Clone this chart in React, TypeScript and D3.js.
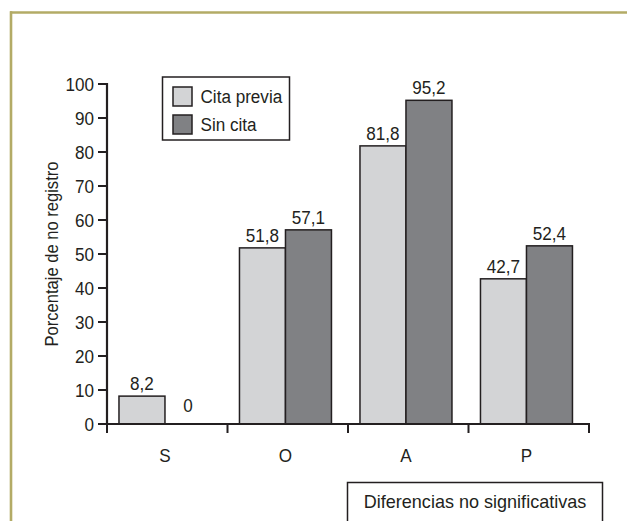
import React from "react";
import * as d3 from "d3";

const categories = ["S", "O", "A", "P"];
const seriesNames = ["Cita previa", "Sin cita"];
const citaPrevia = [8.2, 51.8, 81.8, 42.7];
const sinCita = [0, 57.1, 95.2, 52.4];
const valueLabels = [
  ["8,2", "51,8", "81,8", "42,7"],
  ["0", "57,1", "95,2", "52,4"],
];
const yTicks = [0, 10, 20, 30, 40, 50, 60, 70, 80, 90, 100];
const yLabel = "Porcentaje de no registro";
const noteText = "Diferencias no significativas";

const W = 627;
const H = 521;
const FONT = "'Liberation Sans', Arial, sans-serif";
const colors = ["#d3d4d6", "#808184"];
const ink = "#231f20";
const frame = "#b3ab66";
const SX = 0.9;

function T({
  x,
  y,
  anchor = "start",
  size = 19,
  sx = SX,
  rotate = 0,
  dy,
  children,
}: {
  x: number;
  y: number;
  anchor?: string;
  size?: number;
  sx?: number;
  rotate?: number;
  dy?: string;
  children: React.ReactNode;
}) {
  return (
    <text
      transform={`translate(${x},${y}) rotate(${rotate}) scale(${sx},1)`}
      fontFamily={FONT}
      fontSize={size}
      fill={ink}
      textAnchor={anchor}
      dy={dy}
    >
      {children}
    </text>
  );
}

export default function App() {
  const series = [citaPrevia, sinCita];
  const x = d3.scaleBand<string>().domain(categories).range([107, 589]).padding(0);
  const x1 = d3
    .scaleBand<number>()
    .domain([0, 1])
    .range([0, x.bandwidth()])
    .paddingInner(0)
    .paddingOuter(0.31)
    .align(0.42);
  const y = d3.scaleLinear().domain([0, 100]).range([424, 84]);

  return (
    <svg
      width={W}
      height={H}
      style={{ position: "absolute", left: 0, top: 0, background: "#fff" }}
    >
      {/* frame */}
      <line x1={10} x2={W} y1={12.5} y2={12.5} stroke={frame} strokeWidth={2.6} />
      <line x1={11} x2={11} y1={11.2} y2={H} stroke={frame} strokeWidth={2.6} />

      {/* bars */}
      {categories.map((c, i) =>
        series.map((s, j) => {
          const v = s[i];
          const bx = (x(c) as number) + (x1(j) as number);
          return (
            <g key={c + j}>
              <rect
                x={bx}
                y={y(v)}
                width={x1.bandwidth()}
                height={y(0) - y(v)}
                fill={colors[j]}
                stroke={ink}
                strokeWidth={1.5}
              />
              <T x={bx + x1.bandwidth() / 2} y={Math.min(y(v), y(0) - 6) - 6} anchor="middle">
                {valueLabels[j][i]}
              </T>
            </g>
          );
        })
      )}

      {/* y axis */}
      <line x1={107} x2={107} y1={y(100) - 1} y2={y(0) + 1} stroke={ink} strokeWidth={2.2} />
      {yTicks.map((t) => (
        <g key={t}>
          <line x1={98} x2={107} y1={y(t)} y2={y(t)} stroke={ink} strokeWidth={2} />
          <T x={94} y={y(t)} dy="0.35em" anchor="end">
            {t}
          </T>
        </g>
      ))}
      <T x={58} y={(y(0) + y(100)) / 2} rotate={-90} anchor="middle" size={18} sx={0.92}>
        {yLabel}
      </T>

      {/* x axis */}
      <line x1={106} x2={590} y1={y(0)} y2={y(0)} stroke={ink} strokeWidth={2.2} />
      {[...categories.map((c) => x(c) as number), 589].map((bx, i) => (
        <line key={i} x1={bx} x2={bx} y1={y(0)} y2={y(0) + 9} stroke={ink} strokeWidth={2} />
      ))}
      {categories.map((c) => (
        <T key={c} x={(x(c) as number) + (x1(0) as number) + x1.bandwidth()} y={462} anchor="middle">
          {c}
        </T>
      ))}

      {/* legend */}
      <rect x={162.5} y={77} width={127} height={63} fill="#fff" stroke={ink} strokeWidth={1.5} />
      {seriesNames.map((n, j) => (
        <g key={n}>
          <rect
            x={173}
            y={87 + j * 28}
            width={19}
            height={19}
            fill={colors[j]}
            stroke={ink}
            strokeWidth={1.5}
          />
          <T x={200.5} y={87 + j * 28 + 16}>
            {n}
          </T>
        </g>
      ))}

      {/* note box */}
      <path d={`M347.5,${H} V482.5 H602.5 V${H}`} fill="none" stroke={ink} strokeWidth={1.5} />
      <T x={475} y={508} anchor="middle" sx={0.95}>
        {noteText}
      </T>
    </svg>
  );
}
